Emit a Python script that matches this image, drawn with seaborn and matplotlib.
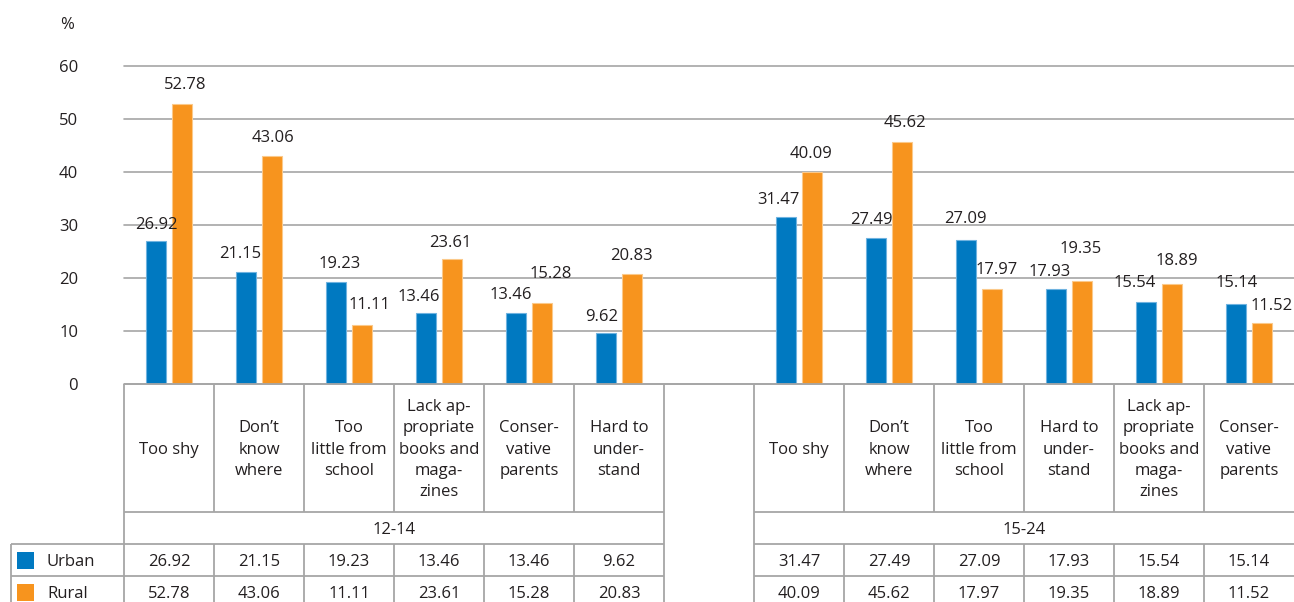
import numpy as np
import pandas as pd
import matplotlib
matplotlib.use("Agg")
import matplotlib.pyplot as plt
from matplotlib.patches import Rectangle
import seaborn as sns

# ---------------- data ----------------
GROUPS = ["12-14", "15-24"]
CATEGORIES_1214 = ["Too shy", "Don\u2019t\nknow\nwhere", "Too\nlittle from\nschool",
                   "Lack ap-\npropriate\nbooks and\nmaga-\nzines", "Conser-\nvative\nparents",
                   "Hard to\nunder-\nstand"]
URBAN_1214 = [26.92, 21.15, 19.23, 13.46, 13.46, 9.62]
RURAL_1214 = [52.78, 43.06, 11.11, 23.61, 15.28, 20.83]
CATEGORIES_1524 = ["Too shy", "Don\u2019t\nknow\nwhere", "Too\nlittle from\nschool",
                   "Hard to\nunder-\nstand", "Lack ap-\npropriate\nbooks and\nmaga-\nzines",
                   "Conser-\nvative\nparents"]
URBAN_1524 = [31.47, 27.49, 27.09, 17.93, 15.54, 15.14]
RURAL_1524 = [40.09, 45.62, 17.97, 19.35, 18.89, 11.52]
SERIES = ["Urban", "Rural"]
Y_TICKS = [0, 10, 20, 30, 40, 50, 60]
Y_UNIT = "%"

# ---------------- style ----------------
BLUE = "#0079C1"
ORANGE = "#F7941E"
EDGE = {"Urban": "#6FB3E0", "Rural": "#FBC98A"}
GRID = "#A6A6A6"
TXT = "#231F20"
FS = 12.0
W, H = 1294, 602

# label nudges (pixels): (dx, dy above bar top to text centre)
NUDGE = {
    "Urban": [(0, 18), (-6, 20), (4, 20), (-7, 18), (-5, 20), (-4, 18),
              (-8, 19), (-5, 20), (-1, 23), (-6, 19), (-11, 21), (1, 23)],
    "Rural": [(3, 21), (1, 20), (7, 22), (-2, 18), (9, 31), (-1, 20),
              (-1, 20), (3, 21), (5, 21), (-1, 34), (5, 25), (10, 19)],
}

sns.set_style("white")
plt.rcParams["font.family"] = ["Open Sans", "DejaVu Sans"]
plt.rcParams["text.color"] = TXT

# ---------------- long-form table ----------------
group_data = {
    "12-14": (CATEGORIES_1214, URBAN_1214, RURAL_1214),
    "15-24": (CATEGORIES_1524, URBAN_1524, RURAL_1524),
}
order = []
rows = []
for gi, g in enumerate(GROUPS):
    cats, urb, rur = group_data[g]
    if gi > 0:
        order.append("gap")
    for i, c in enumerate(cats):
        key = f"{g}|{i}"
        order.append(key)
        rows.append({"slot": key, "area": "Urban", "value": urb[i]})
        rows.append({"slot": key, "area": "Rural", "value": rur[i]})
df = pd.DataFrame(rows)

# ---------------- figure ----------------
fig = plt.figure(figsize=(W / 100, H / 100), dpi=100)
AX_L, AX_R, AX_T, AX_B = 124, 1294, 66, 384
ax = fig.add_axes([AX_L / W, 1 - AX_B / H, (AX_R - AX_L) / W, (AX_B - AX_T) / H])

sns.barplot(data=df, x="slot", y="value", hue="area", order=order, hue_order=SERIES,
            palette=[BLUE, ORANGE], saturation=1, width=0.578, gap=0.23, errorbar=None,
            legend=False, ax=ax, linewidth=0.8, zorder=3)

ax.set_xlim(-0.5, len(order) - 0.5)
ax.set_ylim(0, 60)
ax.set_yticks(Y_TICKS)
ax.yaxis.grid(True, color=GRID, lw=1.2)
ax.xaxis.grid(False)
ax.set_axisbelow(True)
for gl in ax.get_ygridlines():
    gl.set_clip_on(False)
for s in ax.spines.values():
    s.set_visible(False)
ax.tick_params(axis="y", length=0, pad=33, labelsize=FS, labelcolor=TXT)
ax.tick_params(axis="x", bottom=False, labelbottom=False)
ax.set_xlabel("")
ax.set_ylabel("")

# bar edges + value labels
for cont, area in zip(ax.containers, SERIES):
    patches = sorted(cont.patches, key=lambda p: p.get_x())
    for p, (dx, dy) in zip(patches, NUDGE[area]):
        p.set_edgecolor(EDGE[area])
        xc = p.get_x() + p.get_width() / 2
        h = p.get_height()
        ax.annotate(f"{h:.2f}", (xc, h), xytext=(dx, dy - 6), textcoords="offset pixels",
                    ha="center", va="baseline", fontsize=FS, color=TXT, zorder=5,
                    annotation_clip=False)

# ---------------- overlay in pixel coordinates ----------------
pix = fig.add_axes([0, 0, 1, 1], zorder=4)
pix.set_xlim(0, W)
pix.set_ylim(H, 0)
pix.axis("off")
pix.patch.set_alpha(0)


def px(xd):
    return ax.transData.transform((xd, 0))[0]


fig.canvas.draw()

R_TOP, R_HEAD, R_GROUP, R_URB, R_RUR = 384, 512, 544, 576, 608
LEG_L = 11
LW = 1.3


def hline(x0, x1, y):
    pix.plot([x0, x1], [y, y], color=GRID, lw=LW, solid_capstyle="butt")


def vline(x, y0, y1):
    pix.plot([x, x], [y0, y1], color=GRID, lw=LW, solid_capstyle="butt")


# baseline across all
hline(px(-0.5), px(len(order) - 0.5), R_TOP)

pos = 0
for gi, g in enumerate(GROUPS):
    cats, urb, rur = group_data[g]
    if gi > 0:
        pos += 1
    start = pos
    x0 = px(start - 0.5)
    x1 = px(start + len(cats) - 0.5)
    for y in (R_HEAD, R_GROUP, R_URB):
        hline(x0, x1, y)
    for i, c in enumerate(cats):
        s = start + i
        xl = px(s - 0.5)
        if i == 0:
            vline(xl, R_TOP, R_RUR)
        else:
            vline(xl, R_TOP, R_HEAD)
            vline(xl, R_GROUP, R_RUR)
        xc = px(s)
        pix.text(xc, (R_TOP + R_HEAD) / 2 + 1.5, c, ha="center", va="center",
                 multialignment="center", linespacing=1.45, fontsize=FS, color=TXT)
        pix.text(xc, (R_GROUP + R_URB) / 2 + 6, f"{urb[i]:.2f}", ha="center",
                 va="baseline", fontsize=FS, color=TXT)
        pix.text(xc, (R_URB + R_RUR) / 2 + 6, f"{rur[i]:.2f}", ha="center",
                 va="baseline", fontsize=FS, color=TXT)
    if gi == 0:
        vline(x1, R_TOP, R_RUR)
    pix.text((x0 + x1) / 2, (R_HEAD + R_GROUP) / 2 + 6, g, ha="center",
             va="baseline", fontsize=FS, color=TXT)
    pos += len(cats)

# legend column
hline(LEG_L, px(-0.5), R_GROUP)
hline(LEG_L, px(-0.5), R_URB)
vline(LEG_L, R_GROUP, R_RUR)
for area, col, (ya, yb) in zip(SERIES, [BLUE, ORANGE], [(R_GROUP, R_URB), (R_URB, R_RUR)]):
    yc = (ya + yb) / 2
    pix.add_patch(Rectangle((17, yc - 8.5), 17, 17, color=col, lw=0))
    pix.text(47, yc + 6, area, ha="left", va="baseline", fontsize=FS, color=TXT)

# unit label
pix.text(67, 25, Y_UNIT, ha="center", va="center", fontsize=FS, color=TXT)

fig.savefig("out.png", dpi=100)
